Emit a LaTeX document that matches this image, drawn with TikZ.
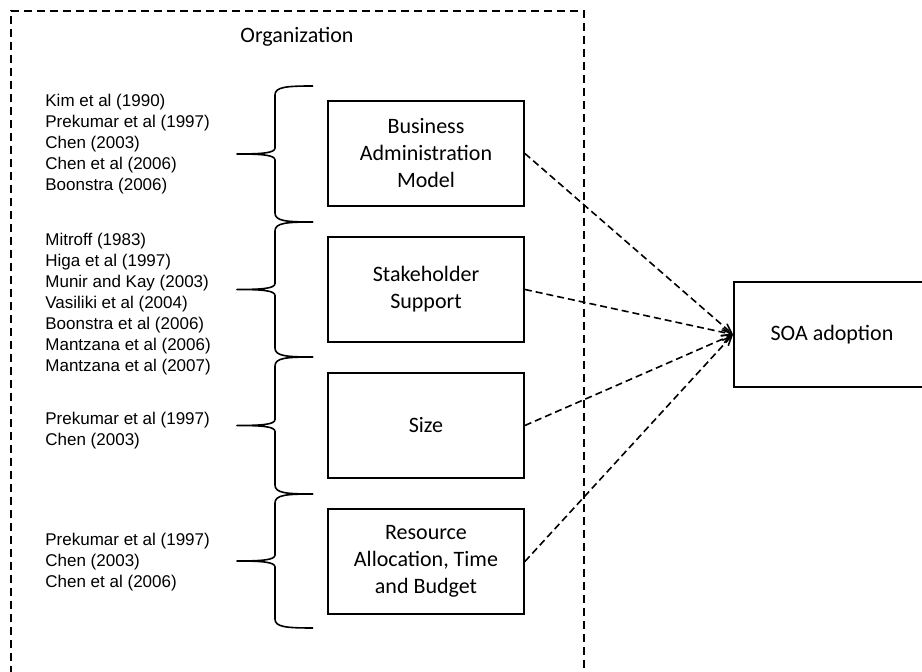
\documentclass[tikz,border=0pt]{standalone}
\usepackage{fontspec}
\setmainfont{Carlito}
\newfontfamily\reffont{Liberation Sans}
\usetikzlibrary{arrows}
\tikzset{
	factor/.style={
		% The shape:
		rectangle,minimum width=98pt,minimum height=52.5pt,
		% The border:
		draw=black,line width=0.9pt,
		% The text:
		align=center,font=\fontsize{11}{13.5}\selectfont,
	}}
\tikzset{
	reflist/.style={
		% The text only, no border:
		anchor=west,inner sep=0pt,align=left,
		font=\reffont\fontsize{8.5}{10.5}\selectfont,
	}}
\tikzset{
	cluster/.style={
		% curly brace pointing left
		line width=0.8pt,line join=round,
	}}
\tikzset{
	link/.style={
		->,>=angle 45,
		dash pattern=on 3.5pt off 2pt,line width=0.8pt,
	}}

\begin{document}
\begin{tikzpicture}[x=0.5pt,y=-0.5pt]
	\useasboundingbox (0,0) rectangle (922,672);
	\clip (0,0) rectangle (922,672);
	% organization frame, open at the bottom
	\draw[dash pattern=on 4pt off 2.5pt,line width=0.8pt] (11,700) -- (11,11) -- (584,11) -- (584,700);
	\node[font=\fontsize{11}{13.5}\selectfont] (org) at (297,37) {Organization};
	\matrix (factors) [row sep=14.6pt,ampersand replacement=\&] at (426,357.5) {
		\node[factor] (bam) {Business\\Administration\\Model}; \\
		\node[factor] (sup) {Stakeholder\\Support}; \\
		\node[factor] (size) {Size}; \\
		\node[factor] (res) {Resource\\Allocation, Time\\and Budget}; \\
	};
	\node[factor] (soa) at (832,334.5) {SOA adoption};
	% references
	\node[reflist] (refs1) at (45,144) {Kim et al (1990)\\Prekumar et al (1997)\\Chen (2003)\\Chen et al (2006)\\Boonstra (2006)};
	\node[reflist] (refs2) at (45,304) {Mitroff (1983)\\Higa et al (1997)\\Munir and Kay (2003)\\Vasiliki et al (2004)\\Boonstra et al (2006)\\Mantzana et al (2006)\\Mantzana et al (2007)};
	\node[reflist] (refs3) at (45,430.5) {Prekumar et al (1997)\\Chen (2003)};
	\node[reflist] (refs4) at (45,562.5) {Prekumar et al (1997)\\Chen (2003)\\Chen et al (2006)};
	% braces
	\foreach \ya/\yb in {86/222,222/357,357/494,494/628}{
		\pgfmathsetmacro\ym{(\ya+\yb)/2}
		\draw[cluster] (313,\ya) .. controls (286,\ya) and (275,\ya+1) .. (275,\ya+9)
			-- (275,\ym-6) .. controls (275,\ym-1) and (262,\ym) .. (237,\ym)
			.. controls (262,\ym) and (275,\ym+1) .. (275,\ym+6)
			-- (275,\yb-9) .. controls (275,\yb-1) and (286,\yb) .. (313,\yb);
	}
	\foreach \f in {bam,sup,size,res}
		\draw[link] (\f.east) -- (soa.west);
\end{tikzpicture}
\end{document}
